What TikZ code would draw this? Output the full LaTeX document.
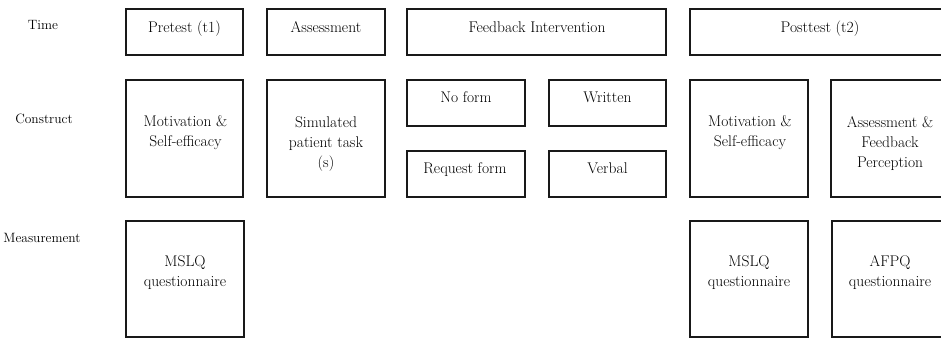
\documentclass[tikz,border=0pt]{standalone}
\usepackage{tikz}
\tikzset{
  box/.style={draw=black!90, line width=1.8pt, inner sep=0pt, outer sep=0pt},
  mtext/.style={font=\fontsize{15.5}{20}\selectfont, align=center, inner sep=0pt},
  btext/.style={mtext, text height=11pt, text depth=3.5pt},
  rowlabel/.style={font=\fontsize{13.5}{16}\selectfont, inner sep=0pt, text height=9pt, text depth=3pt}
}
\begin{document}
\begin{tikzpicture}[x=1pt,y=-1pt]
\useasboundingbox (0,0) rectangle (941,339);
\clip (0,0) rectangle (941,339);
% row labels
\node[rowlabel] (lt) at (43,27) {Time};
\node[rowlabel] (lc) at (44,121) {Construct};
\node[rowlabel] (lm) at (42,239) {Measurement};
% time row
\node[box, minimum width=117pt, minimum height=46pt] (pre) at (184.5,32) {};
\node[box, minimum width=118pt, minimum height=46pt] (ass) at (326,32) {};
\node[box, minimum width=259pt, minimum height=46pt] (fi) at (536.5,32) {};
\node[box, minimum width=260pt, minimum height=46pt] (post) at (820,32) {};
\node[btext] (tpre) at (184.5,29) {Pretest (t1)};
\node[btext] (tass) at (326,29) {Assessment};
\node[btext] (tfi) at (537,29) {Feedback Intervention};
\node[btext] (tpost) at (820,29) {Posttest (t2)};
% construct row
\node[box, minimum width=117pt, minimum height=117pt] (mot1) at (184.5,138.5) {};
\node[box, minimum width=118pt, minimum height=117pt] (sim) at (326,138.5) {};
\node[box, minimum width=118pt, minimum height=46pt] (nof) at (466,103) {};
\node[box, minimum width=117pt, minimum height=46pt] (wri) at (607.5,103) {};
\node[box, minimum width=118pt, minimum height=46pt] (req) at (466,174) {};
\node[box, minimum width=117pt, minimum height=46pt] (ver) at (607.5,174) {};
\node[box, minimum width=118pt, minimum height=117pt] (mot2) at (749,138.5) {};
\node[box, minimum width=118pt, minimum height=117pt] (afp) at (890,138.5) {};
\node[mtext] (tmot1) at (185.5,132.5) {Motivation \&\\Self-efficacy};
\node[mtext] (tsim) at (326,144) {Simulated\\patient task\\(s)};
\node[btext] (tnof) at (466,99) {No form};
\node[btext] (twri) at (607.5,99) {Written};
\node[btext] (treq) at (465,170) {Request form};
\node[btext] (tver) at (607.5,170) {Verbal};
\node[mtext] (tmot2) at (750,132.5) {Motivation \&\\Self-efficacy};
\node[mtext] (tafp) at (890,143.5) {Assessment \&\\Feedback\\Perception};
% measurement row
\node[box, minimum width=118pt, minimum height=116pt] (ms1) at (185,279) {};
\node[box, minimum width=118pt, minimum height=116pt] (ms2) at (749,279) {};
\node[box, minimum width=118pt, minimum height=116pt] (afq) at (891,279) {};
\node[mtext] (tms1) at (185,272.5) {MSLQ\\questionnaire};
\node[mtext] (tms2) at (749,272.5) {MSLQ\\questionnaire};
\node[mtext] (tafq) at (890,272.5) {AFPQ\\questionnaire};
\end{tikzpicture}
\end{document}
